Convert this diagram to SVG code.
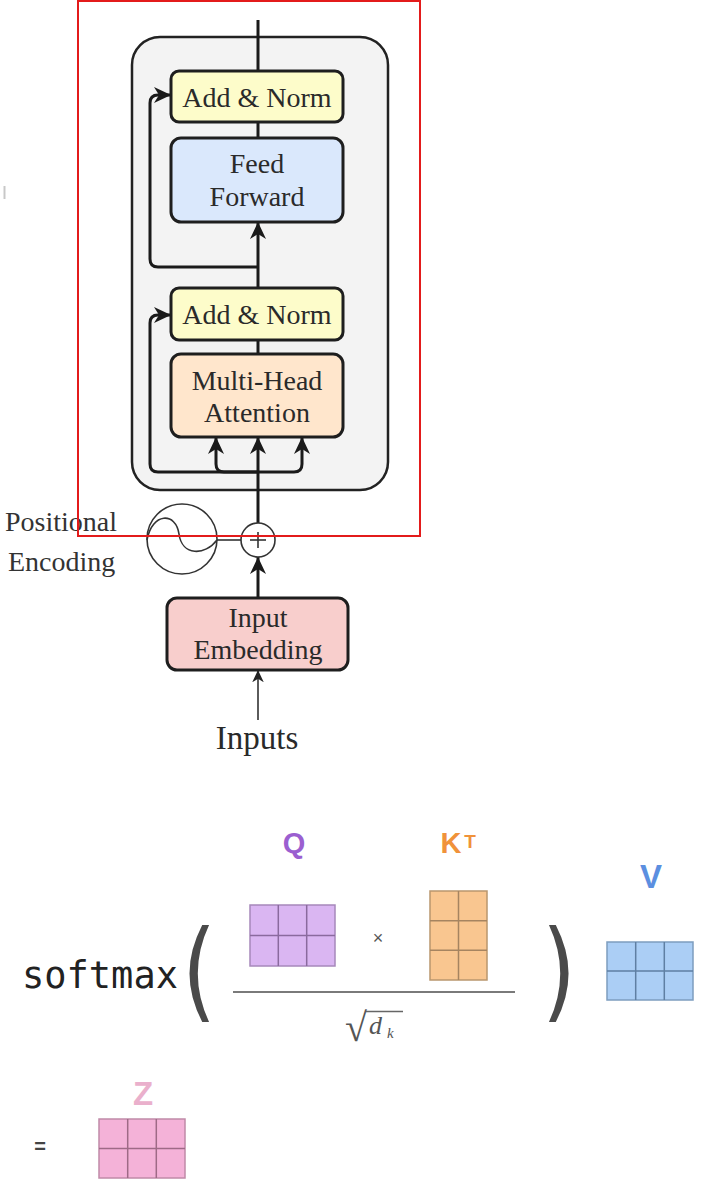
<svg xmlns="http://www.w3.org/2000/svg" width="701" height="1182" viewBox="0 0 701 1182">
  <style>
    .box { stroke: #1e1e1e; stroke-width: 3; }
    .lbl { font-family: "Liberation Serif", "Times New Roman", serif; font-size: 28px; fill: #2a2a2a; text-anchor: middle; }
    .side { font-family: "Liberation Serif", "Times New Roman", serif; font-size: 28px; fill: #333; }
    .wire { fill: none; stroke: #1a1a1a; stroke-width: 3; }
    .thin { fill: none; stroke: #333; stroke-width: 1.6; }
    .mlbl { font-family: "Liberation Sans", Arial, sans-serif; font-weight: bold; font-size: 29px; text-anchor: middle; }
    .paren { font-family: "DejaVu Sans", sans-serif; font-size: 109px; fill: #4a4a4a; text-anchor: middle; }
  </style>
  <defs>
    <marker id="arrow" viewBox="0 0 18 18" markerUnits="userSpaceOnUse" markerWidth="18" markerHeight="18" refX="17" refY="9" orient="auto">
      <path d="M0,1 L17,9 L0,17 L5,9 Z" fill="#1a1a1a"/>
    </marker>
    <marker id="arrowSmall" viewBox="0 0 18 18" markerUnits="userSpaceOnUse" markerWidth="13" markerHeight="13" refX="17" refY="9" orient="auto">
      <path d="M0,1 L17,9 L0,17 L5,9 Z" fill="#222"/>
    </marker>
  </defs>

  <rect width="701" height="1182" fill="#ffffff"/>

  <!-- stray mark at the left edge -->
  <line x1="4.5" y1="186" x2="4.5" y2="199" stroke="#c8c8c8" stroke-width="2"/>

  <!-- encoder block container -->
  <g id="encoder-block">
    <rect x="132" y="37" width="256" height="453" rx="28" fill="#f3f3f3" stroke="#222" stroke-width="2.5"/>
  </g>

  <!-- connectors -->
  <g id="connectors">
    <line class="wire" x1="258" y1="20" x2="258" y2="71"/>
    <line class="wire" x1="258" y1="122" x2="258" y2="138"/>
    <line class="wire" x1="258" y1="288" x2="258" y2="222" marker-end="url(#arrow)"/>
    <path class="wire" d="M258,267 L158,267 Q150,267 150,259 L150,103 Q150,95 158,95 L171,95" marker-end="url(#arrow)"/>
    <line class="wire" x1="258" y1="340" x2="258" y2="354"/>
    <line class="wire" x1="258" y1="523" x2="258" y2="437" marker-end="url(#arrow)"/>
    <path class="wire" d="M258,472 L158,472 Q150,472 150,464 L150,323 Q150,315 158,315 L171,315" marker-end="url(#arrow)"/>
    <path class="wire" d="M258,472 L224,472 Q216,472 216,464 L216,437" marker-end="url(#arrow)"/>
    <path class="wire" d="M258,472 L294,472 Q302,472 302,464 L302,437" marker-end="url(#arrow)"/>
    <line class="thin" x1="217" y1="540" x2="241" y2="540"/>
    <line class="wire" x1="258" y1="598" x2="258" y2="557" marker-end="url(#arrow)"/>
    <line class="thin" x1="258" y1="720" x2="258" y2="670" marker-end="url(#arrowSmall)"/>
  </g>

  <g id="add-norm-2">
    <rect class="box" x="171" y="71" width="172" height="51" rx="8" fill="#fdfcca"/>
    <text class="lbl" x="257" y="107">Add &amp; Norm</text>
  </g>

  <g id="feed-forward">
    <rect class="box" x="171" y="138" width="172" height="84" rx="10" fill="#dae8fc"/>
    <text class="lbl" x="257" y="173">Feed</text>
    <text class="lbl" x="257" y="206">Forward</text>
  </g>

  <g id="add-norm-1">
    <rect class="box" x="171" y="288" width="172" height="52" rx="8" fill="#fdfcca"/>
    <text class="lbl" x="257" y="324">Add &amp; Norm</text>
  </g>

  <g id="multi-head-attention">
    <rect class="box" x="171" y="354" width="172" height="83" rx="10" fill="#ffe6cc"/>
    <text class="lbl" x="257" y="390">Multi-Head</text>
    <text class="lbl" x="257" y="422">Attention</text>
  </g>

  <g id="positional-encoding">
    <circle cx="182" cy="539" r="35" fill="#ffffff" stroke="#333" stroke-width="1.6"/>
    <path d="M147,540 C152,512 176,512 179,534 C182,556 205,556 217,540" fill="none" stroke="#333" stroke-width="1.6"/>
    <text class="side" x="5" y="531">Positional</text>
    <text class="side" x="8" y="571">Encoding</text>
  </g>

  <g id="add-op">
    <circle cx="258" cy="540" r="17" fill="#ffffff" stroke="#333" stroke-width="1.6"/>
    <line class="thin" x1="250" y1="540" x2="266" y2="540"/>
    <line class="thin" x1="258" y1="532" x2="258" y2="548"/>
  </g>

  <g id="input-embedding">
    <rect class="box" x="167" y="598" width="181" height="72" rx="10" fill="#f8cecc"/>
    <text class="lbl" x="258" y="627">Input</text>
    <text class="lbl" x="258" y="659">Embedding</text>
  </g>

  <g id="inputs">
    <text class="lbl" x="257" y="749" style="font-size:33px">Inputs</text>
  </g>

  <!-- highlight frame -->
  <rect x="78" y="1" width="342" height="535" fill="none" stroke="#e31b1b" stroke-width="2"/>

  <!-- attention formula -->
  <g id="formula">
    <text x="22" y="988" font-family="DejaVu Sans Mono, monospace" font-size="37" fill="#222">softmax</text>
    <text class="paren" transform="translate(199,0) scale(0.8,1)" x="0" y="1008">(</text>
    <text class="paren" transform="translate(559,0) scale(0.8,1)" x="0" y="1008">)</text>
    <line x1="233" y1="992" x2="515" y2="992" stroke="#7a7a7a" stroke-width="2"/>
    <text x="378" y="944" font-family="Liberation Sans, Arial, sans-serif" font-size="18" fill="#555" text-anchor="middle">×</text>
    <!-- square root of d_k -->
    <text x="356" y="1041" font-family="Liberation Serif, serif" font-size="40" fill="#555" text-anchor="middle">√</text>
    <line x1="366" y1="1011.5" x2="403" y2="1011.5" stroke="#666" stroke-width="1.5"/>
    <text x="369" y="1034" font-family="Liberation Serif, serif" font-style="italic" font-size="26" fill="#555">d</text>
    <text x="387" y="1038" font-family="Liberation Serif, serif" font-style="italic" font-size="15" fill="#555">k</text>
  </g>

  <g id="matrix-q">
    <text class="mlbl" x="294" y="853" fill="#9b5fd0">Q</text>
    <rect x="250" y="905" width="85" height="61" fill="#dab6f2" stroke="#a688bb" stroke-width="1.5"/>
    <path d="M278.3,905 V966 M306.7,905 V966 M250,935.5 H335" stroke="#8a6a9e" stroke-width="1.5"/>
  </g>

  <g id="matrix-kt">
    <text class="mlbl" x="451" y="853" fill="#f0923a">K</text>
    <text x="470" y="848" font-family="Liberation Sans, Arial, sans-serif" font-weight="bold" font-size="19" fill="#f0923a" text-anchor="middle">T</text>
    <rect x="430" y="891" width="57" height="89" fill="#f9c690" stroke="#b9966e" stroke-width="1.5"/>
    <path d="M458.5,891 V980 M430,920.7 H487 M430,950.3 H487" stroke="#a68460" stroke-width="1.5"/>
  </g>

  <g id="matrix-v">
    <text class="mlbl" x="651" y="888" fill="#5b8fe0" style="font-size:33px">V</text>
    <rect x="607" y="942" width="86" height="58" fill="#abcef5" stroke="#7d9dbf" stroke-width="1.5"/>
    <path d="M635.7,942 V1000 M664.3,942 V1000 M607,971 H693" stroke="#5f7fa3" stroke-width="1.5"/>
  </g>

  <g id="result-z">
    <text x="40" y="1153" font-family="Liberation Sans, Arial, sans-serif" font-size="20" font-weight="bold" fill="#444" text-anchor="middle">=</text>
    <text class="mlbl" x="143" y="1105" fill="#eab0cc" style="font-size:33px">Z</text>
    <rect x="99" y="1119" width="86" height="59" fill="#f4b2d8" stroke="#c08aa8" stroke-width="1.5"/>
    <path d="M127.7,1119 V1178 M156.3,1119 V1178 M99,1148.5 H185" stroke="#9e6a86" stroke-width="1.5"/>
  </g>
</svg>
